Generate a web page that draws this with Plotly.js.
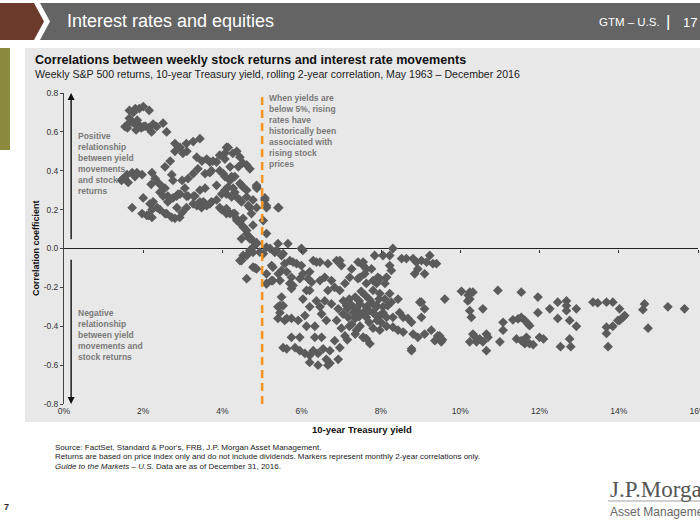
<!DOCTYPE html>
<html>
<head>
<meta charset="utf-8">
<script src="https://cdn.plot.ly/plotly-3.0.1.min.js"></script>
<style>
html,body{margin:0;padding:0;background:#fff;}
#chart{width:700px;height:525px;}
</style>
</head>
<body>
<div id="chart"></div>
<script>
// ---- Data: [10-year Treasury yield (%), rolling 2-year correlation] ----
const ptsLowYield = [
[1.65,0.71],[1.75,0.70],[1.8,0.72],[1.9,0.72],[2.0,0.73],[2.15,0.71],
[1.54,0.627],[1.66,0.65],[1.79,0.64],[1.92,0.63],[2.0,0.627],[2.13,0.62],[2.25,0.64],[2.34,0.627],[2.5,0.645],[2.59,0.60],[2.21,0.60],
[1.6,0.62],[1.72,0.65],[1.85,0.66],[1.95,0.62],[2.05,0.63],[1.65,0.67],[1.82,0.61],
[2.8,0.54],[2.93,0.52],[3.09,0.54],[3.26,0.55],[3.43,0.565],
[2.8,0.50],[2.55,0.42],[2.68,0.45],[3.0,0.49],[3.1,0.50],
[1.45,0.35],[1.49,0.36],[1.59,0.38],[1.72,0.39],[1.84,0.39],[1.97,0.38],[1.79,0.37],[1.62,0.34],
[2.22,0.39],[2.3,0.36],[2.37,0.34],[2.47,0.32],[2.55,0.31],[2.62,0.27],[2.5,0.27],[2.42,0.29],[2.2,0.33],
[2.72,0.38],[2.75,0.35],[2.98,0.35],[3.05,0.31],[2.88,0.28],[2.75,0.26],[2.62,0.24],
[1.72,0.21],[2.0,0.26],[2.17,0.23],[2.25,0.24],[2.35,0.21],[2.42,0.20],[2.22,0.20],[1.97,0.18],[2.09,0.17],[2.22,0.16],[2.13,0.17],
[2.55,0.18],[2.72,0.16],[2.8,0.155],[2.92,0.16],[2.98,0.185],[2.85,0.21],[3.13,0.27],[3.3,0.27],[3.43,0.24],
[2.59,0.18],[2.84,0.27],[2.93,0.28],[3.09,0.27],[3.43,0.30],[3.56,0.31],[3.6,0.22],[3.72,0.24],[3.85,0.25],[3.98,0.28],
[3.09,0.21],[3.26,0.23],[3.35,0.22],[3.47,0.21],[3.93,0.21],[4.06,0.196],
[3.13,0.36],[3.26,0.385],[3.38,0.41],[3.56,0.385],[3.72,0.40],[3.93,0.40],[3.85,0.445]
];
const ptsNear5 = [
[3.35,0.47],[3.48,0.45],[3.6,0.46],[3.76,0.45],[3.93,0.48],[4.06,0.49],[4.14,0.52],[4.26,0.49],[4.36,0.50],[4.44,0.47],[4.51,0.44],[4.69,0.41],[4.87,0.31],
[4.10,0.52],[3.68,0.445],[4.06,0.46],[4.40,0.42],[4.61,0.43],[3.68,0.39],[4.02,0.385],[4.23,0.37],[4.48,0.325],[3.85,0.325],[4.06,0.30],[4.31,0.29],[4.48,0.24],[4.65,0.22],
[3.27,0.27],[3.52,0.24],[3.68,0.23],[3.98,0.20],[4.19,0.18],[4.36,0.145],[4.53,0.11],
[4.06,0.37],[4.19,0.35],[4.31,0.37],[4.44,0.335],[4.52,0.316],[4.61,0.30],[4.19,0.42],[4.14,0.316],[4.27,0.31],[4.35,0.265],[4.61,0.265],[4.77,0.25],[4.69,0.21],
[4.1,0.205],[4.27,0.18],[4.35,0.155],[4.44,0.13],[4.52,0.11],[4.61,0.075],[4.69,0.057],[4.77,0.04],[4.86,0.025],[4.77,0.007],[4.69,-0.01],
[4.86,0.316],[5.07,0.25],[5.11,0.22],[5.11,0.077],[5.4,0.21],
[4.86,0.325],[5.07,0.26],[5.42,0.21],[5.11,0.21],[4.86,0.21],
[4.1,0.28],[4.23,0.265],[4.44,0.25],[4.1,0.18],[4.31,0.18],[4.52,0.155],[4.73,0.18],[4.77,0.12],[4.61,0.093],[4.48,0.05],[4.69,0.05],[4.86,0.03],
[4.77,-0.02],[4.61,-0.036],[4.48,-0.062],[4.82,-0.10],[4.61,-0.155],[5.03,0.144],[5.03,-0.027],
[4.52,-0.036],[4.94,-0.019],[5.11,0.007],[4.77,-0.096],[5.11,-0.13],[5.11,-0.182],[4.86,-0.105],[4.44,-0.062]
];
const ptsMidYield = [
[5.2,0.0],[5.4,0.025],[5.65,0.025],[5.32,-0.02],[5.53,-0.027],[5.7,-0.062],[5.87,-0.078],[5.99,0.0],[5.27,-0.096],[5.49,-0.113],[5.24,-0.165],[5.45,-0.165],[5.7,-0.18],[5.95,-0.155],[6.2,-0.12],[6.37,-0.07],[6.66,-0.078],[6.46,-0.165],[6.12,-0.216],[5.49,-0.25],[5.74,-0.206],[6.88,-0.062],
[5.36,-0.01],[5.49,-0.036],[6.03,-0.01],[5.57,-0.078],[5.78,-0.07],[5.99,-0.088],[6.29,-0.062],[6.46,-0.07],[6.96,-0.062],[7.0,-0.088],[7.26,-0.105],[7.42,-0.07],[7.55,-0.088],[7.84,-0.036],
[5.41,-0.13],[5.62,-0.12],[5.74,-0.148],[6.03,-0.13],[6.16,-0.155],[6.25,-0.173],[5.27,-0.165],[5.11,-0.18],[5.78,-0.19],[6.2,-0.216],[6.58,-0.148],[6.75,-0.165],[6.83,-0.2],[6.66,-0.216],[6.96,-0.216],[7.09,-0.18],[7.21,-0.148],[7.42,-0.155],[7.59,-0.13],[7.8,-0.165],[7.92,-0.148],
[5.53,-0.294],[5.45,-0.33],[5.57,-0.37],[5.74,-0.36],[5.91,-0.37],[6.03,-0.26],[6.08,-0.345],[6.2,-0.30],[6.37,-0.27],[6.46,-0.30],[6.5,-0.337],[6.62,-0.37],[6.33,-0.40],[6.12,-0.40],[6.58,-0.27],[6.75,-0.285],[6.88,-0.37],[6.92,-0.31],[7.04,-0.337],[7.13,-0.294],[7.17,-0.354],[7.3,-0.33],[7.38,-0.31],[7.47,-0.285],[7.55,-0.33],[7.63,-0.30],[7.8,-0.285],[7.89,-0.30],[7.26,-0.39],[7.38,-0.42],[7.47,-0.40],[7.55,-0.457],[7.63,-0.464],[7.09,-0.45],
[5.74,-0.457],[5.95,-0.457],[6.33,-0.457],[6.5,-0.457],[5.62,-0.516],[5.83,-0.51],[5.95,-0.526],[6.08,-0.54],[6.2,-0.55],[6.29,-0.526],[6.41,-0.54],[6.54,-0.516],[6.71,-0.526],[6.83,-0.474],[6.96,-0.51],[6.92,-0.57],[6.2,-0.586],[6.41,-0.60],[6.71,-0.59],[6.62,-0.57],[6.66,-0.60],[5.53,-0.51],[5.45,-0.294],[5.62,-0.36],
[5.24,-0.088],[5.4,-0.30],[5.4,-0.36]
];
const ptsEightPct = [
[8.05,-0.036],[8.22,-0.036],[8.3,0.0],[8.52,-0.052],[8.64,-0.052],[8.81,-0.052],[8.89,-0.07],[9.02,-0.062],[9.15,-0.07],[9.23,-0.036],[9.31,-0.078],[9.4,-0.078],[8.85,-0.13],[9.1,-0.13],[8.93,-0.105],
[7.55,-0.07],[7.63,-0.105],[7.76,-0.105],[8.22,-0.088],[8.26,-0.113],[8.14,-0.148],[7.97,-0.155],[7.89,-0.18],[8.1,-0.18],[7.47,-0.148],
[7.63,-0.18],[7.8,-0.216],[7.97,-0.232],[8.1,-0.26],[8.22,-0.232],[8.26,-0.276],[8.17,-0.294],[8.05,-0.30],[7.89,-0.294],[7.72,-0.285],[8.43,-0.26],
[7.63,-0.354],[7.8,-0.33],[7.97,-0.345],[8.14,-0.354],[8.3,-0.354],[8.47,-0.33],[8.56,-0.354],[8.68,-0.36],[8.77,-0.38],[8.98,-0.276],[9.1,-0.31],[9.02,-0.354],[9.61,-0.26],
[7.8,-0.41],[7.97,-0.42],[8.14,-0.40],[8.3,-0.405],[8.43,-0.42],[8.56,-0.43],[8.81,-0.44],[8.93,-0.457],[9.1,-0.44],[9.27,-0.42],[9.43,-0.45],[9.36,-0.474],[9.52,-0.474],
[7.55,-0.457],[7.72,-0.49],[8.77,-0.516],[8.77,-0.526],[9.02,-0.276],[9.48,-0.45],[9.52,-0.48],
[7.05,-0.27],[7.2,-0.26],[7.35,-0.25],[7.45,-0.27],[7.6,-0.24],[7.7,-0.26],[7.35,-0.36],[7.45,-0.35],[7.7,-0.38],[7.9,-0.37],[8.0,-0.38],[7.5,-0.22],[7.7,-0.32],[7.15,-0.31],[7.25,-0.29],[7.4,-0.32],[7.85,-0.34],[8.05,-0.33],[7.95,-0.26],[7.2,-0.4],[7.0,-0.41],[7.35,-0.44],[7.15,-0.47]
];
const ptsHighYield = [
[10.03,-0.22],[10.24,-0.225],[10.32,-0.225],[10.19,-0.27],[10.24,-0.26],[10.24,-0.32],[10.28,-0.354],[10.57,-0.31],[10.95,-0.216],[11.54,-0.225],[11.96,-0.25],[11.96,-0.33],[12.26,-0.31],[12.46,-0.276],[12.46,-0.36],[12.68,-0.27],[12.68,-0.294],[12.68,-0.32],[12.76,-0.37],[12.93,-0.31],[12.93,-0.40],
[13.35,-0.276],[13.47,-0.28],[13.69,-0.276],[13.85,-0.276],[14.02,-0.31],[14.02,-0.37],[14.11,-0.354],[14.15,-0.345],[14.65,-0.285],[14.61,-0.315],[14.74,-0.41],[15.24,-0.30],[15.66,-0.31],
[13.69,-0.405],[13.85,-0.40],[13.69,-0.437],[13.73,-0.505],[13.98,-0.37],
[10.32,-0.44],[10.24,-0.48],[10.49,-0.465],[10.57,-0.48],[10.66,-0.44],[10.7,-0.457],[10.66,-0.526],[10.41,-0.48],[11.0,-0.48],[11.08,-0.42],[11.08,-0.38],[11.33,-0.367],[11.46,-0.362],[11.54,-0.354],[11.63,-0.37],[11.71,-0.388],[11.75,-0.397],
[11.42,-0.465],[11.54,-0.474],[11.67,-0.457],[11.63,-0.49],[11.75,-0.49],[11.84,-0.495],[12.0,-0.457],[12.1,-0.465],[12.53,-0.505],[12.79,-0.505],[12.76,-0.465],[10.2,-0.24],[10.35,-0.45],[9.55,-0.47]
];
const xTickVals = [0,2,4,6,8,10,12,14,16];
const xTickText = ['0%','2%','4%','6%','8%','10%','12%','14%','16%'];
const yTickVals = [-0.8,-0.6,-0.4,-0.2,0,0.2,0.4,0.6,0.8];
const yTickText = ['-0.8','-0.6','-0.4','-0.2','0.0','0.2','0.4','0.6','0.8'];
const thresholdYield = 5;

// ---- Layout helpers (pixel -> paper) ----
const L = 64, T = 93, W = 634, H = 311;
const xp = px => (px - L) / W;
const yp = py => 1 - (py - T) / H;

const allPts = [].concat(ptsLowYield, ptsNear5, ptsMidYield, ptsEightPct, ptsHighYield);
const FONT = 'Liberation Sans, Arial, Helvetica, sans-serif';

const traces = [
  {
    type: 'scatter', mode: 'markers',
    x: allPts.map(p => p[0]), y: allPts.map(p => p[1]),
    marker: {symbol: 'diamond', size: 7.5, color: '#5b5b5b', line: {width: 0}},
    hoverinfo: 'skip', showlegend: false
  },
  {type: 'scatter', mode: 'markers', x: [], y: [], xaxis: 'x2', yaxis: 'y', showlegend: false, hoverinfo: 'skip'}
];

const noteFont = {family: FONT, size: 8.5, color: '#7a7a7a'};
const annotations = [
  {text: 'Interest rates and equities', x: xp(65), y: yp(21.5), xref: 'paper', yref: 'paper', xanchor: 'left', yanchor: 'middle', showarrow: false, font: {family: FONT, size: 18, color: '#ffffff'}},
  {text: 'GTM – U.S.', x: xp(597), y: yp(22), xref: 'paper', yref: 'paper', xanchor: 'left', yanchor: 'middle', showarrow: false, font: {family: FONT, size: 11.5, color: '#ffffff'}},
  {text: '|', x: xp(668), y: yp(21), xref: 'paper', yref: 'paper', xanchor: 'center', yanchor: 'middle', showarrow: false, font: {family: FONT, size: 17, color: '#ffffff'}},
  {text: '17', x: xp(681), y: yp(22), xref: 'paper', yref: 'paper', xanchor: 'left', yanchor: 'middle', showarrow: false, font: {family: FONT, size: 13, color: '#ffffff'}},
  {text: '<b>Correlations between weekly stock returns and interest rate movements</b>', x: xp(33), y: yp(60), xref: 'paper', yref: 'paper', xanchor: 'left', yanchor: 'middle', showarrow: false, font: {family: FONT, size: 12.6, color: '#111'}},
  {text: 'Weekly S&P 500 returns, 10-year Treasury yield, rolling 2-year correlation, May 1963 – December 2016', x: xp(33), y: yp(74), xref: 'paper', yref: 'paper', xanchor: 'left', yanchor: 'middle', showarrow: false, font: {family: FONT, size: 10.6, color: '#222'}},
  {text: '<b>Correlation coefficient</b>', x: xp(36), y: yp(248), xref: 'paper', yref: 'paper', xanchor: 'center', yanchor: 'middle', textangle: -90, showarrow: false, font: {family: FONT, size: 9, color: '#111'}},
  {text: '<b>10-year Treasury yield</b>', x: xp(362), y: yp(429), xref: 'paper', yref: 'paper', xanchor: 'center', yanchor: 'middle', showarrow: false, font: {family: FONT, size: 9.5, color: '#111'}},
  // arrows
  {x: 0.18, y: 0.8, ax: 0.18, ay: 0.04, xref: 'x', yref: 'y', axref: 'x', ayref: 'y', text: '', showarrow: true, arrowhead: 2, arrowsize: 1, arrowwidth: 1.4, arrowcolor: '#111'},
  {x: 0.18, y: -0.8, ax: 0.18, ay: -0.05, xref: 'x', yref: 'y', axref: 'x', ayref: 'y', text: '', showarrow: true, arrowhead: 2, arrowsize: 1, arrowwidth: 1.4, arrowcolor: '#111'},
  {text: '<b>Positive<br>relationship<br>between yield<br>movements<br>and stock<br>returns</b>', x: xp(76), y: yp(129), xref: 'paper', yref: 'paper', xanchor: 'left', yanchor: 'top', align: 'left', showarrow: false, font: noteFont},
  {text: '<b>Negative<br>relationship<br>between yield<br>movements and<br>stock returns</b>', x: xp(76), y: yp(306), xref: 'paper', yref: 'paper', xanchor: 'left', yanchor: 'top', align: 'left', showarrow: false, font: noteFont},
  {text: '<b>When yields are<br>below 5%, rising<br>rates have<br>historically been<br>associated with<br>rising stock<br>prices</b>', x: xp(267), y: yp(91), xref: 'paper', yref: 'paper', xanchor: 'left', yanchor: 'top', align: 'left', showarrow: false, font: noteFont},
  // footnotes
  {text: 'Source: FactSet, Standard & Poor\'s, FRB, J.P. Morgan Asset Management.', x: xp(53), y: yp(447), xref: 'paper', yref: 'paper', xanchor: 'left', yanchor: 'middle', showarrow: false, font: {family: FONT, size: 8, color: '#222'}},
  {text: 'Returns are based on price index only and do not include dividends. Markers represent monthly 2-year correlations only.', x: xp(53), y: yp(456.5), xref: 'paper', yref: 'paper', xanchor: 'left', yanchor: 'middle', showarrow: false, font: {family: FONT, size: 8, color: '#222'}},
  {text: '<i>Guide to the Markets – U.S.</i> Data are as of December 31, 2016.', x: xp(53), y: yp(466), xref: 'paper', yref: 'paper', xanchor: 'left', yanchor: 'middle', showarrow: false, font: {family: FONT, size: 8, color: '#222'}},
  {text: '<b>7</b>', x: xp(2), y: yp(507), xref: 'paper', yref: 'paper', xanchor: 'left', yanchor: 'middle', showarrow: false, font: {family: FONT, size: 9, color: '#222'}},
  {text: 'J.P.Morgan', x: xp(608), y: yp(489), xref: 'paper', yref: 'paper', xanchor: 'left', yanchor: 'middle', showarrow: false, font: {family: 'Liberation Serif, Times New Roman, serif', size: 23, color: '#555'}},
  {text: 'Asset Management', x: xp(608), y: yp(512), xref: 'paper', yref: 'paper', xanchor: 'left', yanchor: 'middle', showarrow: false, font: {family: FONT, size: 12, color: '#666'}}
];

const shapes = [
  {type: 'rect', xref: 'paper', yref: 'paper', x0: xp(25), x1: xp(700), y0: yp(422), y1: yp(48), fillcolor: '#e8e8e8', line: {width: 0}, layer: 'below'},
  {type: 'rect', xref: 'paper', yref: 'paper', x0: xp(0), x1: xp(10), y0: yp(150), y1: yp(48), fillcolor: '#8c8a3c', line: {width: 0}, layer: 'below'},
  {type: 'path', xref: 'paper', yref: 'paper', path: `M ${xp(0)},${yp(3)} L ${xp(34)},${yp(3)} L ${xp(44)},${yp(21.5)} L ${xp(34)},${yp(40)} L ${xp(0)},${yp(40)} Z`, fillcolor: '#6b3a2b', line: {width: 0}, layer: 'below'},
  {type: 'path', xref: 'paper', yref: 'paper', path: `M ${xp(40)},${yp(3)} L ${xp(700)},${yp(3)} L ${xp(700)},${yp(40)} L ${xp(40)},${yp(40)} L ${xp(50)},${yp(21.5)} Z`, fillcolor: '#646464', line: {width: 0}, layer: 'below'},
  {type: 'line', xref: 'x', yref: 'y', x0: thresholdYield, x1: thresholdYield, y0: -0.8, y1: 0.8, line: {color: '#f39425', width: 2.6, dash: '8px,5px'}, layer: 'above'},
  {type: 'line', xref: 'paper', yref: 'paper', x0: xp(608), x1: xp(700), y0: yp(501), y1: yp(501), line: {color: '#8a8a8a', width: 0.8}}
];

const layout = {
  width: 700, height: 525,
  margin: {l: L, r: 700 - L - W, t: T, b: 525 - T - H, pad: 0},
  paper_bgcolor: '#ffffff', plot_bgcolor: 'rgba(0,0,0,0)',
  showlegend: false,
  font: {family: FONT, size: 8.5, color: '#333'},
  xaxis: {range: [0, 16], tickvals: xTickVals, ticktext: xTickText, ticklabeloverflow: 'allow', showgrid: false, zeroline: false, showline: false, ticks: '', tickfont: {family: FONT, size: 8.5, color: '#333'}, fixedrange: true, automargin: false},
  xaxis2: {range: [0, 16], overlaying: 'x', anchor: 'free', position: 0.5, side: 'bottom', tickvals: xTickVals.slice(1), ticks: 'outside', ticklen: 3, tickcolor: '#333', tickwidth: 1, showticklabels: false, showgrid: false, zeroline: false, showline: false, fixedrange: true},
  yaxis: {range: [-0.8, 0.8], tickvals: yTickVals, ticktext: yTickText, showgrid: false, zeroline: true, zerolinecolor: '#222', zerolinewidth: 1.3, showline: true, linecolor: '#444', linewidth: 1, ticks: 'outside', ticklen: 3, tickcolor: '#444', tickfont: {family: FONT, size: 8.5, color: '#333'}, fixedrange: true, automargin: false},
  shapes: shapes,
  annotations: annotations
};

Plotly.newPlot('chart', traces, layout, {staticPlot: true, displayModeBar: false});
</script>
</body>
</html>
